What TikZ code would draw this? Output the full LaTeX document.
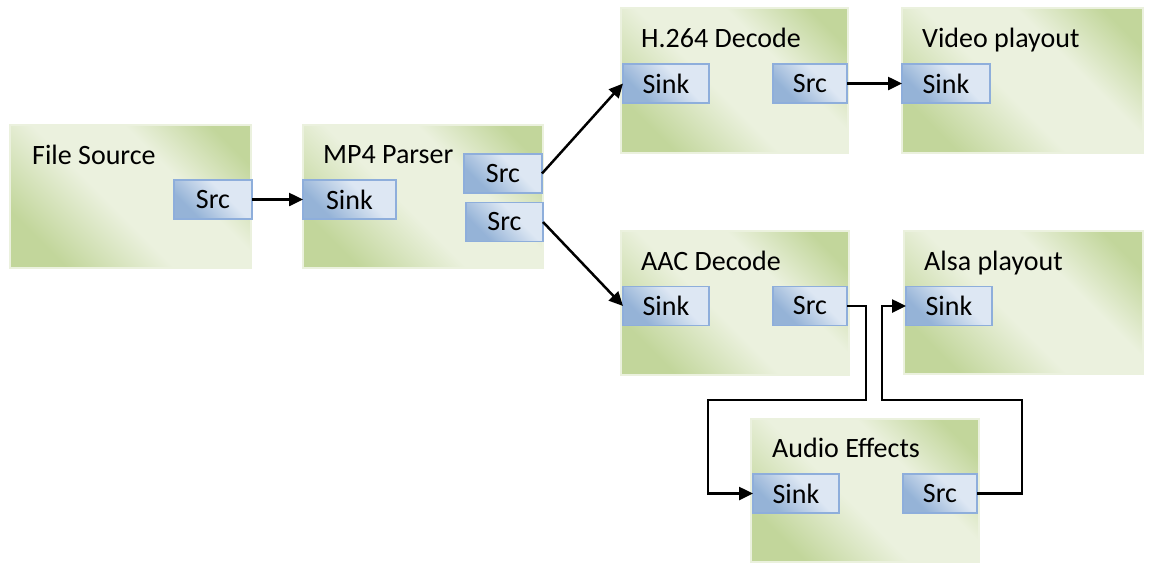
\documentclass[tikz,border=0pt]{standalone}
\usepackage{fontspec}
\setmainfont{Carlito}
\usetikzlibrary{arrows.meta}
\definecolor{gdark}{HTML}{C2D69B}
\definecolor{glight}{HTML}{EBF1DE}
\definecolor{bdark}{HTML}{95B3D7}
\definecolor{blight}{HTML}{DDE7F3}
\definecolor{bedge}{HTML}{8EAEDB}
\pgfdeclarehorizontalshading{gshade}{100bp}{color(0bp)=(gdark); color(25bp)=(gdark); color(45bp)=(glight); color(62bp)=(glight); color(78bp)=(gdark); color(100bp)=(gdark)}
\pgfdeclarehorizontalshading{bshade}{100bp}{color(0bp)=(bdark); color(30bp)=(bdark); color(60bp)=(blight); color(100bp)=(blight)}
\tikzset{
  blk/.style={rectangle, inner sep=0pt, outer sep=0pt, shading=gshade, shading angle=45, draw=glight, line width=1.2pt},
  port/.style={rectangle, inner sep=0pt, outer sep=0pt, minimum height=39pt, shading=bshade, shading angle=45, draw=bedge, line width=1.3pt, font=\fontsize{28}{32}\selectfont},
  ttl/.style={anchor=base west, inner sep=0pt, font=\fontsize{28}{32}\selectfont},
  arr/.style={draw=black, line width=2.5pt, -{Triangle[length=14pt,width=13pt]}}
}
\begin{document}
\begin{tikzpicture}[x=1pt,y=-1pt]
\useasboundingbox[fill=white] (0,0) rectangle (1154,563);
% blocks
\node[blk, minimum width=241pt, minimum height=143pt] (fs) at (130.5,196.5) {};
\node[blk, minimum width=240pt, minimum height=143pt] (mp) at (423,196.5) {};
\node[blk, minimum width=227pt, minimum height=145pt] (h264) at (734.5,80.5) {};
\node[blk, minimum width=241pt, minimum height=145pt] (vid) at (1022.5,80.5) {};
\node[blk, minimum width=228pt, minimum height=144pt] (aac) at (735,303) {};
\node[blk, minimum width=239pt, minimum height=143pt] (alsa) at (1023.5,302.5) {};
\node[blk, minimum width=228pt, minimum height=143pt] (ae) at (865,490.5) {};
% titles
\node[ttl] (fsT) at (32,164) {File Source};
\node[ttl] (mpT) at (323,163) {MP4 Parser};
\node[ttl] (h264T) at (641,47) {H.264 Decode};
\node[ttl] (vidT) at (922,47) {Video playout};
\node[ttl] (aacT) at (641,270) {AAC Decode};
\node[ttl] (alsaT) at (924,270) {Alsa playout};
\node[ttl] (aeT) at (772,457) {Audio Effects};
% ports
\node[port, minimum width=78pt] (fsSrc) at (213,199.5) {Src};
\node[port, minimum width=93pt] (mpSink) at (349.5,199.5) {Sink};
\node[port, minimum width=78pt] (mpSrcA) at (503,173.5) {Src};
\node[port, minimum width=77pt] (mpSrcB) at (504.5,222) {Src};
\node[port, minimum width=86pt] (h264Sink) at (666,83.5) {Sink};
\node[port, minimum width=74pt] (h264Src) at (810,83.5) {Src};
\node[port, minimum width=88pt] (vidSink) at (946,83.5) {Sink};
\node[port, minimum width=86pt] (aacSink) at (666,306) {Sink};
\node[port, minimum width=74pt] (aacSrc) at (810,306) {Src};
\node[port, minimum width=86pt] (alsaSink) at (949,306) {Sink};
\node[port, minimum width=86pt] (aeSink) at (796,493.5) {Sink};
\node[port, minimum width=74pt] (aeSrc) at (940,493.5) {Src};
% routing points
\coordinate (c1) at (866,400);
\coordinate (c2) at (708,400);
\coordinate (c3) at (1022,400);
\coordinate (c4) at (882,400);
% connectors
\draw[arr] (fsSrc.east) -- (mpSink.west);
\draw[arr] (mpSrcA.east) -- (h264Sink.west);
\draw[arr] (mpSrcB.east) -- (aacSink.west);
\draw[arr] (h264Src.east) -- (vidSink.west);
\draw[arr] (aacSrc.east) -| (c1) -- (c2) |- (aeSink.west);
\draw[arr] (aeSrc.east) -| (c3) -- (c4) |- (alsaSink.west);
\end{tikzpicture}
\end{document}
